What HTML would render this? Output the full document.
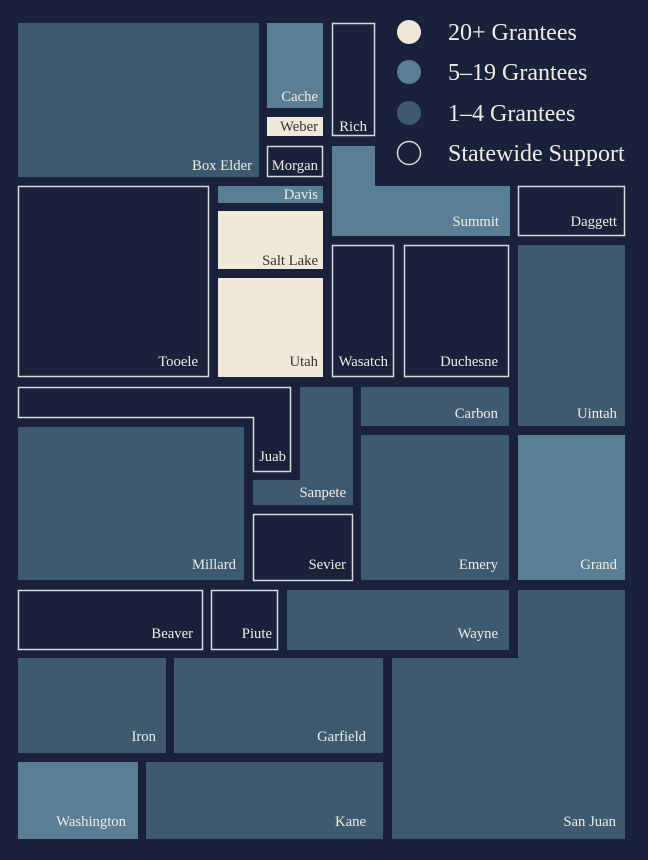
<!DOCTYPE html>
<html><head><meta charset="utf-8"><style>
html,body{margin:0;padding:0;background:#19223a;}
svg{display:block}
text{font-family:"Liberation Serif",serif;fill:#f0ece4}
.l{font-size:14.7px;text-anchor:end}
.g{font-size:24px}
.m{fill:#3d5a70}.b{fill:#5a7e93}.c{fill:#f0e9d9}.o{fill:#19223a;stroke:#d8d8d8;stroke-width:1.5}
</style></head><body>
<svg width="648" height="860" viewBox="0 0 648 860" xmlns="http://www.w3.org/2000/svg">
<rect width="648" height="860" fill="#19223a"/>
<rect class="m" x="18" y="23" width="241" height="154"/><text class="l" x="252" y="170">Box Elder</text>
<rect class="b" x="267" y="23" width="56" height="85"/><text class="l" x="318" y="101">Cache</text>
<rect class="c" x="267" y="117" width="56" height="19"/><text class="l" x="318" y="131" style="fill:#333">Weber</text>
<rect class="o" x="267.5" y="146.5" width="55" height="30"/><text class="l" x="318" y="170">Morgan</text>
<rect class="o" x="332.5" y="23.5" width="42" height="112"/><text class="l" x="367" y="131">Rich</text>
<path class="b" d="M332 146H375V186H510V236H332Z"/><text class="l" x="499" y="226">Summit</text>
<rect class="b" x="218" y="186" width="105" height="17"/><text class="l" x="318" y="199">Davis</text>
<rect class="o" x="518.5" y="186.5" width="106" height="49"/><text class="l" x="617" y="226">Daggett</text>
<rect class="o" x="18.5" y="186.5" width="190" height="190"/><text class="l" x="198" y="366">Tooele</text>
<rect class="c" x="218" y="211" width="105" height="58"/><text class="l" x="318" y="265" style="fill:#333">Salt Lake</text>
<rect class="c" x="218" y="278" width="105" height="99"/><text class="l" x="318" y="366" style="fill:#333">Utah</text>
<rect class="o" x="332.5" y="245.5" width="61" height="131"/><text class="l" x="388" y="366">Wasatch</text>
<rect class="o" x="404.5" y="245.5" width="104" height="131"/><text class="l" x="498" y="366">Duchesne</text>
<rect class="m" x="518" y="245" width="107" height="181"/><text class="l" x="617" y="418">Uintah</text>
<path class="o" d="M18.5 387.5H290.5V471.5H253.5V417.5H18.5Z"/><text class="l" x="286" y="461">Juab</text>
<path class="m" d="M300 387H353V505H253V480H300Z"/><text class="l" x="346" y="497">Sanpete</text>
<rect class="m" x="361" y="387" width="148" height="39"/><text class="l" x="498" y="418">Carbon</text>
<rect class="m" x="18" y="427" width="226" height="153"/><text class="l" x="236" y="569">Millard</text>
<rect class="o" x="253.5" y="514.5" width="99" height="66"/><text class="l" x="346" y="569">Sevier</text>
<rect class="m" x="361" y="435" width="148" height="145"/><text class="l" x="498" y="569">Emery</text>
<rect class="b" x="518" y="435" width="107" height="145"/><text class="l" x="617" y="569">Grand</text>
<rect class="o" x="18.5" y="590.5" width="184" height="59"/><text class="l" x="193" y="638">Beaver</text>
<rect class="o" x="211.5" y="590.5" width="66" height="59"/><text class="l" x="272" y="638">Piute</text>
<rect class="m" x="287" y="590" width="222" height="60"/><text class="l" x="498" y="638">Wayne</text>
<path class="m" d="M518 590H625V839H392V658H518Z"/><text class="l" x="616" y="826">San Juan</text>
<rect class="m" x="18" y="658" width="148" height="95"/><text class="l" x="156" y="741">Iron</text>
<rect class="m" x="174" y="658" width="209" height="95"/><text class="l" x="366" y="741">Garfield</text>
<rect class="b" x="18" y="762" width="120" height="77"/><text class="l" x="126" y="826">Washington</text>
<rect class="m" x="146" y="762" width="237" height="77"/><text class="l" x="366" y="826">Kane</text>
<circle cx="409" cy="32" r="12" class="c"/><text class="g" x="448" y="40">20+ Grantees</text>
<circle cx="409" cy="72" r="12" class="b"/><text class="g" x="448" y="80">5–19 Grantees</text>
<circle cx="409" cy="113" r="12" class="m"/><text class="g" x="448" y="121">1–4 Grantees</text>
<circle cx="409" cy="153" r="11.5" class="o"/><text class="g" x="448" y="161">Statewide Support</text>
</svg>
</body></html>
